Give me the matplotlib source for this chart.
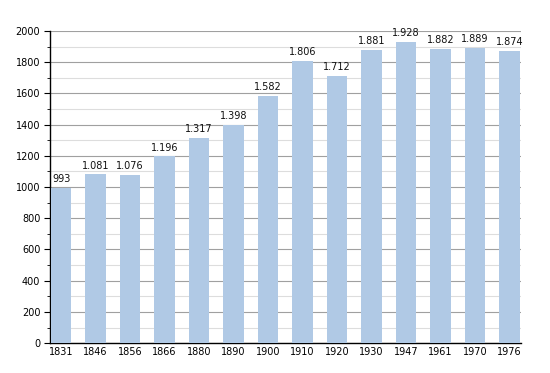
import numpy as np
import matplotlib.pyplot as plt
from matplotlib.ticker import MultipleLocator

# data
years = ["1831", "1846", "1856", "1866", "1880", "1890", "1900", "1910",
         "1920", "1930", "1947", "1961", "1970", "1976"]
population = [993, 1081, 1076, 1196, 1317, 1398, 1582, 1806,
              1712, 1881, 1928, 1882, 1889, 1874]
labels = ["993", "1.081", "1.076", "1.196", "1.317", "1.398", "1.582", "1.806",
          "1.712", "1.881", "1.928", "1.882", "1.889", "1.874"]

fig = plt.figure(figsize=(5.5, 3.73), dpi=100)
ax = fig.add_axes([0.091, 0.08, 0.856, 0.837])

x = np.arange(len(years))
ax.bar(x, population, width=0.6, color="#b0c9e5", zorder=3)

for xi, v, lab in zip(x, population, labels):
    ax.text(xi, v + 25, lab, ha="center", va="bottom", fontsize=7, color="#111111", zorder=4)

ax.set_xlim(-0.32, 13.33)
ax.set_ylim(0, 2000)
ax.set_xticks(x)
ax.set_xticklabels(years)
ax.yaxis.set_major_locator(MultipleLocator(200))
ax.yaxis.set_minor_locator(MultipleLocator(100))

ax.grid(axis="y", which="major", color="#a0a0a0", linewidth=0.8, zorder=0)
ax.grid(axis="y", which="minor", color="#dddddd", linewidth=0.8, zorder=0)

ax.tick_params(axis="x", length=0, labelsize=7, pad=3)
ax.tick_params(axis="y", which="major", length=4, labelsize=7, pad=3)
ax.tick_params(axis="y", which="minor", length=2)

ax.spines["top"].set_visible(False)
ax.spines["right"].set_visible(False)
ax.spines["left"].set_linewidth(1.0)
ax.spines["bottom"].set_linewidth(1.0)

fig.savefig("out.png", dpi=100)
